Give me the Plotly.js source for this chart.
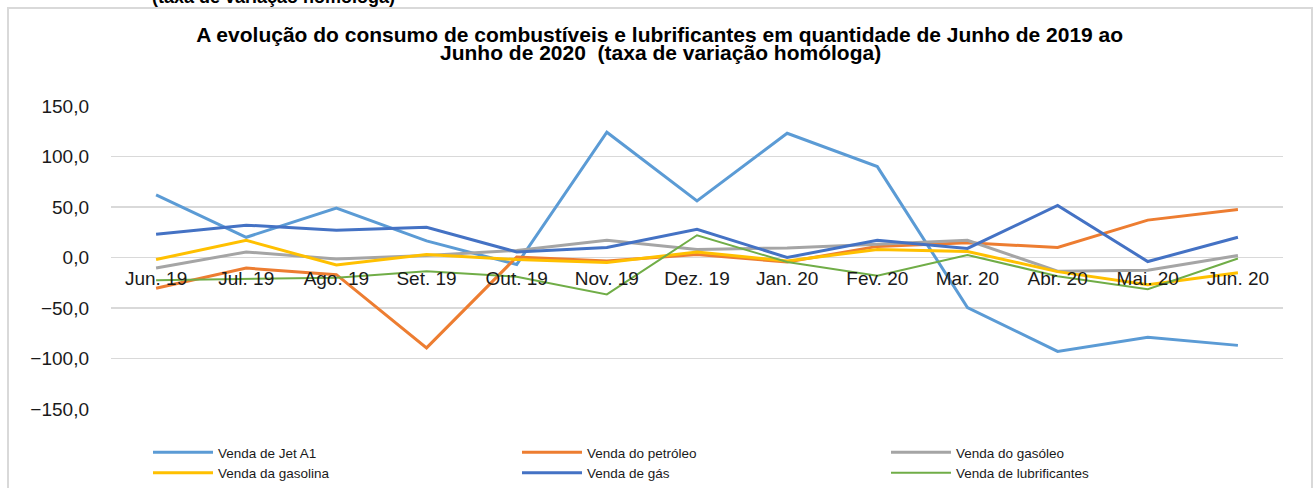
<!DOCTYPE html>
<html>
<head>
<meta charset="utf-8">
<script src="https://cdn.plot.ly/plotly-3.0.1.min.js"></script>
<style>html,body{margin:0;padding:0;background:#fff;}#chart{width:1314px;height:488px;}</style>
</head>
<body>
<div id="chart"></div>
<script>
const months = ["Jun. 19","Jul. 19","Ago. 19","Set. 19","Out. 19","Nov. 19","Dez. 19","Jan. 20","Fev. 20","Mar. 20","Abr. 20","Mai. 20","Jun. 20"];
const jetA1 = [62, 20, 49, 16.5, -7, 124, 56, 123, 90, -49.5, -93, -79, -87];
const petroleo = [-30.5, -10.5, -17, -89.5, 0.5, -3.5, 3, -4.5, 11, 14.5, 10, 37, 47.5];
const gasoleo = [-10.5, 5.5, -1.5, 2, 7, 17, 8, 9.5, 13, 17, -13.5, -12.5, 2];
const gasolina = [-2, 17, -7.5, 3, -2, -5, 5.5, -3.5, 8, 6, -14, -27, -15];
const gas = [23, 32, 27, 30, 5.5, 10, 28, 0, 17, 9, 51.5, -4, 20];
const lubrificantes = [-22.5, -21.5, -20, -13.5, -19, -36.5, 22, -4.5, -18, 2.5, -18.5, -31.5, -1];
const seriesNames = ["Venda de Jet A1","Venda do petróleo","Venda do gasóleo","Venda da gasolina","Venda de gás","Venda de lubrificantes"];
const seriesData = [jetA1, petroleo, gasoleo, gasolina, gas, lubrificantes];
const seriesColors = ["#5B9BD5","#ED7D31","#A5A5A5","#FFC000","#4472C4","#70AD47"];
const seriesWidths = [3, 3, 3, 3, 3, 2];
const titleLine1 = 'A evolução do consumo de combustíveis e lubrificantes em quantidade de Junho de 2019 ao';
const titleLine2 = 'Junho de 2020  (taxa de variação homóloga)';
const topCutText = '(taxa de variação homóloga)';

const traces = seriesNames.map((n, i) => ({
  type: 'scatter', mode: 'lines', name: n, x: months, y: seriesData[i],
  line: {color: seriesColors[i], width: seriesWidths[i]}
}));

const W = 1314, H = 488, L = 111, R = 31, T = 106, B = 79;
const pw = W - L - R, ph = H - T - B;
const px = v => (v - L) / pw;
const py = v => (H - B - v) / ph;
const titleFont = {family: 'Liberation Sans, Arial, sans-serif', size: 21, color: '#000', weight: 'bold'};

const layout = {
  width: W, height: H,
  margin: {l: L, r: R, t: T, b: B, autoexpand: false},
  paper_bgcolor: '#fff', plot_bgcolor: '#fff',
  font: {family: 'Liberation Sans, Arial, sans-serif', color: '#1a1a1a'},
  separators: ',.',
  showlegend: true,
  hovermode: false,
  title: {
    text: titleLine1,
    font: titleFont,
    xref: 'container', x: 0.502, xanchor: 'center',
    yref: 'container', y: 1 - 42/H, yanchor: 'bottom'
  },
  xaxis: {
    type: 'category', anchor: 'free', position: 0.5,
    showgrid: false, zeroline: false, showline: false, ticks: '',
    tickfont: {size: 19, color: '#1a1a1a'}, ticklabelstandoff: 7,
    range: [-0.5, 12.5], fixedrange: true, automargin: false
  },
  yaxis: {
    range: [-150, 150], dtick: 50, tick0: 0, tickformat: '.1f',
    showgrid: true, gridcolor: '#d9d9d9', gridwidth: 1.5,
    zeroline: false, showline: false, ticks: '',
    tickfont: {size: 19, color: '#1a1a1a'},
    ticklabelstandoff: 21, fixedrange: true, automargin: false
  },
  legend: {
    orientation: 'h', x: px(148), xanchor: 'left', y: py(437), yanchor: 'top',
    entrywidth: 294, entrywidthmode: 'pixels', itemwidth: 60,
    font: {family: 'Liberation Sans Narrow, Arial Narrow, Liberation Sans, sans-serif', size: 13.5, color: '#1a1a1a'},
    tracegroupgap: 0, bgcolor: 'rgba(0,0,0,0)'
  },
  shapes: [{
    type: 'rect', xref: 'paper', yref: 'paper', layer: 'below',
    x0: px(8), x1: px(1312), y0: py(500), y1: py(8),
    line: {color: '#d9d9d9', width: 2}, fillcolor: 'rgba(0,0,0,0)'
  }],
  annotations: [{
    text: titleLine2, showarrow: false,
    xref: 'paper', yref: 'paper', x: px(660), xanchor: 'center',
    y: py(66), yanchor: 'bottom', font: titleFont
  }, {
    text: topCutText, showarrow: false,
    xref: 'paper', yref: 'paper', x: px(150), xanchor: 'left',
    y: py(9), yanchor: 'bottom',
    font: {family: 'Liberation Sans, Arial, sans-serif', size: 18, color: '#000', weight: 'bold'}
  }]
};

Plotly.newPlot('chart', traces, layout, {displayModeBar: false, staticPlot: true});
</script>
</body>
</html>
